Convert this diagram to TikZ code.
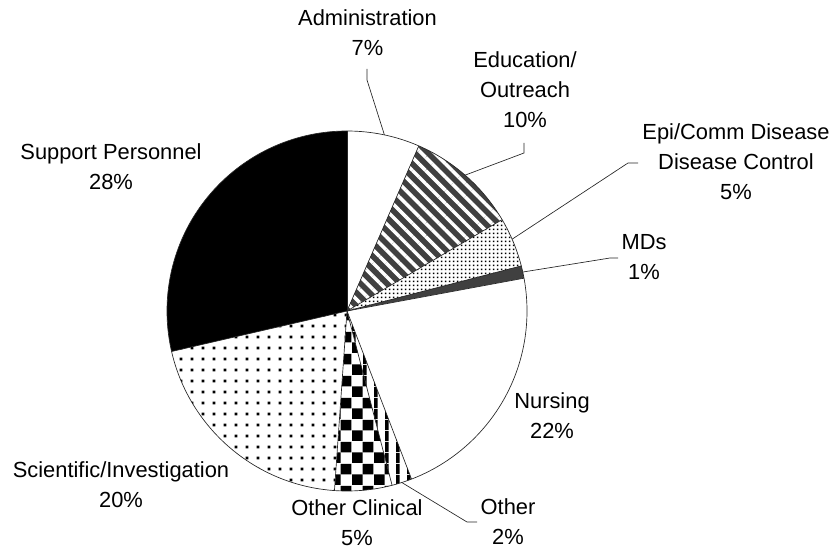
\documentclass[tikz,border=0pt]{standalone}
\usepackage{fontspec}
\setmainfont{Liberation Sans}
\usepackage{tikz}
\usetikzlibrary{patterns,patterns.meta,calc}

\definecolor{pieGray}{HTML}{404040}

\tikzdeclarepattern{
  name=checker, type=uncolored,
  bounding box={(0pt,0pt) and (16.5pt,16.5pt)},
  tile size={(16.5pt,16.5pt)},
  code={
    \fill (0pt,0pt) rectangle (8.25pt,8.25pt);
    \fill (8.25pt,8.25pt) rectangle (16.5pt,16.5pt);
  }
}
\tikzdeclarepattern{
  name=bigdots, type=uncolored,
  bounding box={(0pt,0pt) and (8.25pt,8.25pt)},
  tile size={(8.25pt,8.25pt)},
  code={\fill (3pt,3pt) rectangle (5.25pt,5.25pt);}
}
\tikzdeclarepattern{
  name=finedots, type=uncolored,
  bounding box={(0pt,0pt) and (3pt,3pt)},
  tile size={(3pt,3pt)},
  code={\fill (0.75pt,0.75pt) rectangle (2.25pt,2.25pt);}
}
\tikzdeclarepattern{
  name=vlines, type=uncolored,
  bounding box={(0pt,0pt) and (8.25pt,8.25pt)},
  tile size={(8.25pt,8.25pt)},
  code={\fill (0pt,0pt) rectangle (3pt,8.25pt);}
}

\begin{document}
\begin{tikzpicture}[x=0.75pt,y=0.75pt]

    \tikzset{SL/.style={draw=black!85,line width=0.5pt}}
    \tikzset{LB/.style={align=center,inner sep=0pt,font=\fontsize{16.4}{22.5}\selectfont}}
    \tikzset{LD/.style={draw=black!85,line width=0.5pt}}

    \useasboundingbox (0,0) rectangle (834,550);
    \coordinate (c) at (347,239);

    \path[fill=white] (c) -- ++(90:135pt) arc[start angle=90,end angle=66.5,radius=135pt] -- cycle;
    \path[fill=pieGray,postaction={pattern={Lines[angle=-45,distance=7pt,line width=2.6pt]},pattern color=white}]
        (c) -- ++(66.5:135pt) arc[start angle=66.5,end angle=30.5,radius=135pt] -- cycle;
    \path[fill=white,postaction={pattern=finedots,pattern color=black}]
        (c) -- ++(30.5:135pt) arc[start angle=30.5,end angle=14.5,radius=135pt] -- cycle;
    \path[fill=pieGray] (c) -- ++(14.5:135pt) arc[start angle=14.5,end angle=10.5,radius=135pt] -- cycle;
    \path[fill=white] (c) -- ++(10.5:135pt) arc[start angle=10.5,end angle=-69,radius=135pt] -- cycle;
    \path[fill=white,postaction={pattern=vlines,pattern color=black}]
        (c) -- ++(-69:135pt) arc[start angle=-69,end angle=-75.5,radius=135pt] -- cycle;
    \path[fill=white,postaction={pattern=checker,pattern color=black}]
        (c) -- ++(-75.5:135pt) arc[start angle=-75.5,end angle=-94,radius=135pt] -- cycle;
    \path[fill=white,postaction={pattern=bigdots,pattern color=black}]
        (c) -- ++(-94:135pt) arc[start angle=-94,end angle=-167,radius=135pt] -- cycle;
    \path[fill=black] (c) -- ++(-167:135pt) arc[start angle=-167,end angle=-270,radius=135pt] -- cycle;

    \foreach \a in {90,66.5,30.5,14.5,10.5,-69,-75.5,-94,-167}
        \draw[SL] (c) -- ++(\a:135pt);
    \draw[SL] (c) circle[radius=135pt];

    \node (adm) [LB] at (367.5,517) {Administration\\7\%};
    \node (edu) [LB] at (525,460) {Education/\\Outreach\\10\%};
    \node (epi) [LB] at (736,388) {Epi/Comm Disease\\Disease Control\\5\%};
    \node (mds) [LB] at (644,293) {MDs\\1\%};
    \node (nur) [LB] at (552,134) {Nursing\\22\%};
    \node (oth) [LB] at (508,28) {Other\\2\%};
    \node (ocl) [LB] at (357,27) {Other Clinical\\5\%};
    \node (sci) [LB] at (121,65) {Scientific/Investigation\\20\%};
    \node (sup) [LB] at (111,383) {Support Personnel\\28\%};

    \coordinate (admA) at (367,481);
    \coordinate (eduA) at (524,407);
    \coordinate (epiA) at (638,387);
    \coordinate (mdsA) at (618,292);
    \coordinate (othA) at (477,28);
    \coordinate (admR) at ($(c)+(78:135pt)$);
    \coordinate (eduR) at ($(c)+(49:135pt)$);
    \coordinate (epiR) at ($(c)+(23.5:135pt)$);
    \coordinate (mdsR) at ($(c)+(12.5:135pt)$);
    \coordinate (othR) at ($(c)+(-72.3:135pt)$);

    \path[LD] (admA) -- ++(0,-11) -- (admR);
    \path[LD] (eduA) -- ++(0,-10) -- (eduR);
    \path[LD] (epiA) -- ++(-10,0) -- (epiR);
    \path[LD] (mdsA) -- ++(-8,0) -- (mdsR);
    \path[LD] (othA) -- ++(-10,0) -- (othR);
\end{tikzpicture}
\end{document}
